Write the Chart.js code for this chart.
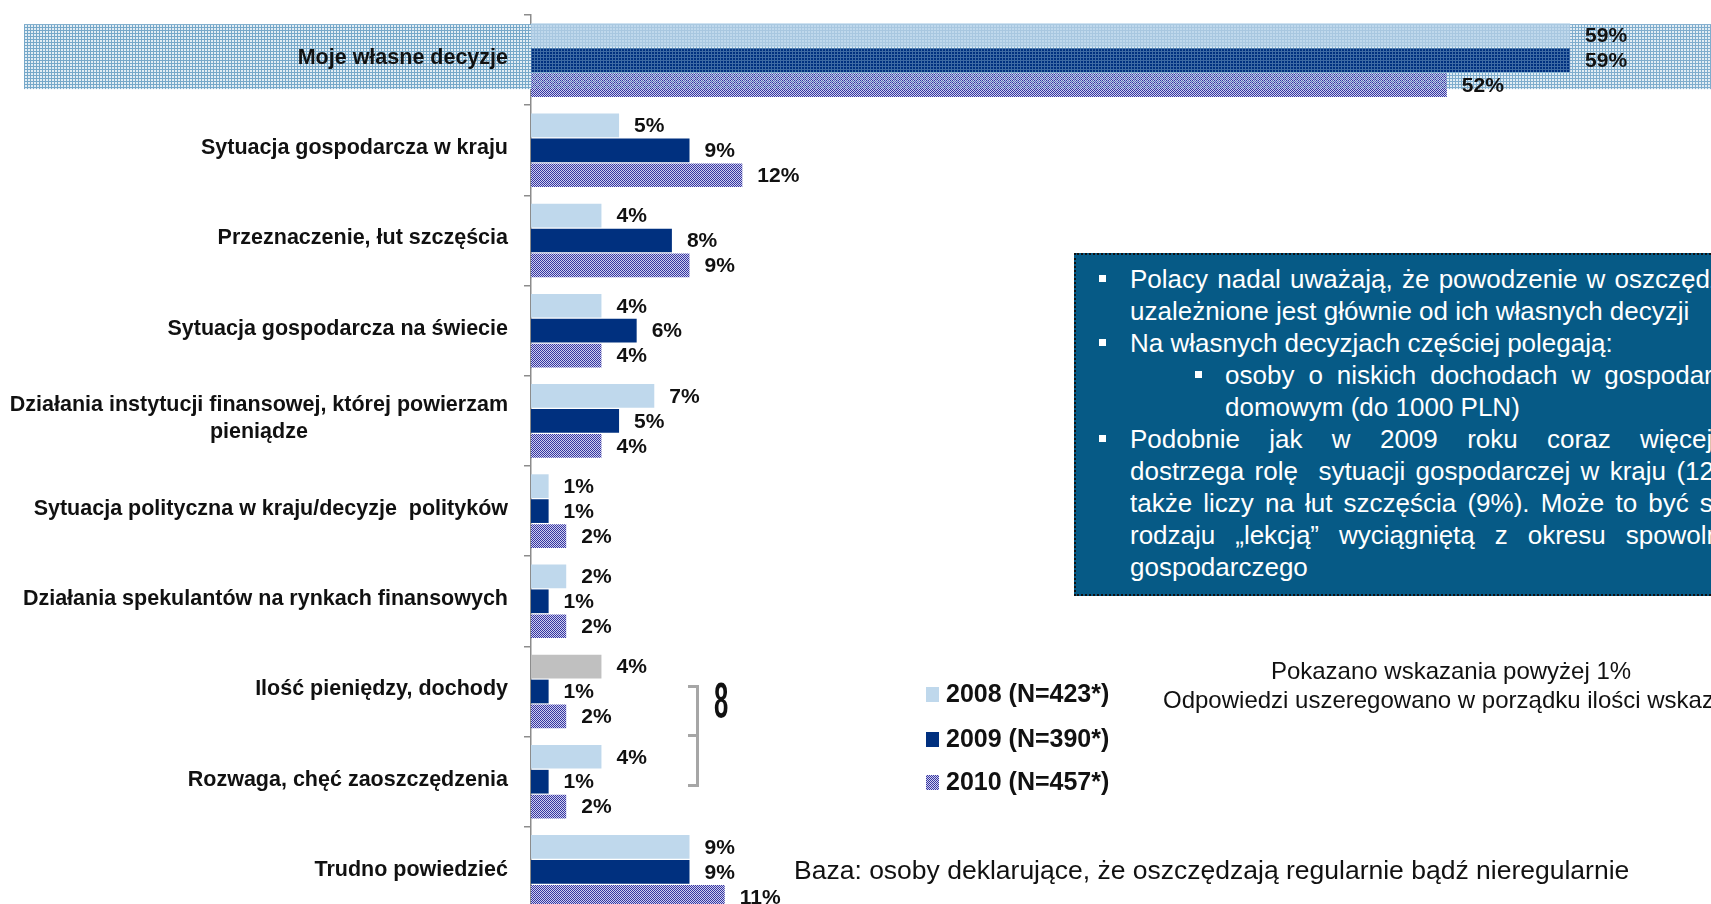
<!DOCTYPE html>
<html><head><meta charset="utf-8">
<script src="https://cdn.jsdelivr.net/npm/chart.js@4.4.0/dist/chart.umd.min.js"></script>
<style>
html,body{margin:0;padding:0;background:#fff;overflow:hidden;}
#wrap{position:relative;width:1711px;height:930px;overflow:hidden;}
#c{position:absolute;left:0;top:0;}
.box{position:absolute;left:1074px;top:253px;width:800px;height:343px;background:#065a86;border:2px dotted #111;box-sizing:border-box;color:#fff;font-family:'Liberation Sans',Arial,sans-serif;font-size:26px;}
.ln{position:absolute;white-space:nowrap;line-height:32px;height:32px;}
.j{text-align:justify;text-align-last:justify;white-space:normal;overflow:hidden;}
.b{position:absolute;width:7px;height:7px;background:#fff;}
.note{position:absolute;font-family:'Liberation Sans',Arial,sans-serif;color:#111;white-space:nowrap;}
.br{position:absolute;left:688px;top:685px;width:8px;height:96px;border:3px solid #a6a6a6;border-left:none;}
.brm{position:absolute;left:688px;top:734px;width:10px;height:3px;background:#a6a6a6;}
.eight{position:absolute;left:714px;top:674px;font-family:'Liberation Sans',Arial,sans-serif;font-weight:bold;font-size:27px;color:#111;transform:scale(0.95,1.85);transform-origin:0 0;}
</style>
</head><body>
<div id="wrap">
<canvas id="c" width="1711" height="930"></canvas>

<div class="box">
  <div class="b" style="left:23px;top:20px"></div>
  <div class="ln" style="left:54px;top:8px;word-spacing:2px">Polacy nadal uważają, że powodzenie w oszczędzaniu</div>
  <div class="ln" style="left:54px;top:40px">uzależnione jest głównie od ich własnych decyzji</div>
  <div class="b" style="left:23px;top:84px"></div>
  <div class="ln" style="left:54px;top:72px">Na własnych decyzjach częściej polegają:</div>
  <div class="b" style="left:119px;top:116px"></div>
  <div class="ln j" style="left:149px;top:104px;width:547px">osoby o niskich dochodach w gospodarstwie</div>
  <div class="ln" style="left:149px;top:136px">domowym (do 1000 PLN)</div>
  <div class="b" style="left:23px;top:180px"></div>
  <div class="ln j" style="left:54px;top:168px;width:668px">Podobnie jak w 2009 roku coraz więcej osób</div>
  <div class="ln j" style="left:54px;top:200px;width:668px">dostrzega rolę&nbsp; sytuacji gospodarczej w kraju (12%), ale</div>
  <div class="ln j" style="left:54px;top:232px;width:645px">także liczy na łut szczęścia (9%). Może to być swego</div>
  <div class="ln j" style="left:54px;top:264px;width:646px">rodzaju „lekcją” wyciągniętą z okresu spowolnienia</div>
  <div class="ln" style="left:54px;top:296px">gospodarczego</div>
</div>

<div class="note" style="left:1163px;top:656px;width:576px;text-align:center;font-size:24px;line-height:29px">Pokazano wskazania powyżej 1%<br>Odpowiedzi uszeregowano w porządku ilości wskazań</div>
<div class="note" style="left:794px;top:855px;font-size:26.5px;line-height:30px">Baza: osoby deklarujące, że oszczędzają regularnie bądź nieregularnie</div>

<div class="br"></div><div class="brm"></div>
<div class="eight">8</div>
</div>

<script>
// ---- data ----
const categories = [
  'Moje własne decyzje',
  'Sytuacja gospodarcza w kraju',
  'Przeznaczenie, łut szczęścia',
  'Sytuacja gospodarcza na świecie',
  ['Działania instytucji finansowej, której powierzam', 'pieniądze'],
  'Sytuacja polityczna w kraju/decyzje  polityków',
  'Działania spekulantów na rynkach finansowych',
  'Ilość pieniędzy, dochody',
  'Rozwaga, chęć zaoszczędzenia',
  'Trudno powiedzieć'
];
const seriesNames = ['2008 (N=423*)', '2009 (N=390*)', '2010 (N=457*)'];
const values2008 = [59, 5, 4, 4, 7, 1, 2, 4, 4, 9];
const values2009 = [59, 9, 8, 6, 5, 1, 1, 1, 1, 9];
const values2010 = [52, 12, 9, 4, 4, 2, 2, 2, 2, 11];
const greyCategory = 'Ilość pieniędzy, dochody';
const highlightedCategory = 'Moje własne decyzje';
const axisMax = 67;

// ---- styles ----
const C2008 = '#bfd8ec', C2009 = '#00307f', CGREY = '#c0c0c0';
function makePattern(w, h, fn) {
  const c = document.createElement('canvas'); c.width = w; c.height = h;
  const g = c.getContext('2d'); fn(g);
  return g.createPattern(c, 'repeat');
}
const P2010 = makePattern(2, 2, g => {
  g.fillStyle = '#cfcff0'; g.fillRect(0, 0, 2, 2);
  g.fillStyle = '#3636a0'; g.fillRect(0, 0, 1, 1); g.fillRect(1, 1, 1, 1);
});
const MESH = makePattern(3, 3, g => {
  g.fillStyle = '#e2edf4'; g.fillRect(0, 0, 3, 3);
  g.fillStyle = '#76a8c9'; g.fillRect(0, 0, 3, 1); g.fillRect(0, 0, 1, 3);
});
const MESH_OVER = makePattern(3, 3, g => {
  g.fillStyle = 'rgba(140,180,210,0.45)'; g.fillRect(0, 0, 3, 1); g.fillRect(0, 1, 1, 2);
});
const FONT = '"Liberation Sans", Arial, sans-serif';
const labelOf = c => Array.isArray(c) ? c.join(' ') : c;

const deco = {
  id: 'deco',
  beforeDatasetsDraw(chart) {
    const ctx = chart.ctx, ys = chart.scales.y;
    const i = categories.findIndex(c => labelOf(c) === highlightedCategory);
    const cy = ys.getPixelForValue(i);
    ctx.save();
    ctx.fillStyle = MESH;
    ctx.fillRect(24, cy - 36, chart.width - 24, 65);
    ctx.restore();
  },
  afterDatasetsDraw(chart) {
    const ctx = chart.ctx, ys = chart.scales.y;
    const i = categories.findIndex(c => labelOf(c) === highlightedCategory);
    const cy = ys.getPixelForValue(i);
    ctx.save();
    ctx.fillStyle = MESH_OVER;
    ctx.fillRect(chart.chartArea.left, cy - 36, chart.width, 65);
    // value labels
    ctx.font = 'bold 21px ' + FONT;
    ctx.fillStyle = '#111';
    ctx.textAlign = 'left';
    ctx.textBaseline = 'middle';
    chart.data.datasets.forEach((ds, d) => {
      chart.getDatasetMeta(d).data.forEach((el, k) => {
        ctx.fillText(ds.data[k] + '%', el.x + 15, el.y + 1);
      });
    });
    ctx.restore();
  },
  afterDraw(chart) {
    const ctx = chart.ctx, ys = chart.scales.y;
    ctx.save();
    // category labels
    ctx.font = 'bold 21.5px ' + FONT;
    ctx.fillStyle = '#111';
    ctx.textBaseline = 'middle';
    const xr = ys.right - 23;
    chart.data.labels.forEach((lab, i) => {
      const y = ys.getPixelForValue(i);
      const lines = Array.isArray(lab) ? lab : [lab];
      if (lines.length === 1) {
        ctx.textAlign = 'right';
        ctx.fillText(lines[0], xr, y - 2);
      } else {
        const w = Math.max(...lines.map(l => ctx.measureText(l).width));
        ctx.textAlign = 'center';
        lines.forEach((l, k) => ctx.fillText(l, xr - w / 2, y - 2 + (k - (lines.length - 1) / 2) * 27));
      }
    });
    // legend
    const swatches = [C2008, C2009, P2010];
    const rowsY = [695, 740, 783];
    ctx.font = 'bold 25px ' + FONT;
    ctx.textAlign = 'left';
    chart.data.datasets.forEach((ds, d) => {
      const y = rowsY[d];
      ctx.fillStyle = swatches[d];
      ctx.fillRect(926, y - 8, 13, 15);
      ctx.fillStyle = '#111';
      ctx.fillText(ds.label, 946, y);
    });
    ctx.restore();
  }
};

new Chart(document.getElementById('c'), {
  type: 'bar',
  data: {
    labels: categories,
    datasets: [
      { label: seriesNames[0], data: values2008,
        backgroundColor: c => labelOf(categories[c.dataIndex]) === greyCategory ? CGREY : C2008 },
      { label: seriesNames[1], data: values2009, backgroundColor: C2009 },
      { label: seriesNames[2], data: values2010, backgroundColor: P2010 }
    ]
  },
  options: {
    indexAxis: 'y',
    responsive: false,
    devicePixelRatio: 1,
    animation: false,
    barPercentage: 0.95,
    categoryPercentage: 0.83,
    layout: { padding: { top: 15, bottom: 13, left: 0, right: 0 } },
    plugins: { legend: { display: false }, tooltip: { enabled: false } },
    scales: {
      x: { min: 0, max: axisMax, display: false },
      y: {
        offset: true,
        grid: { offset: true, drawOnChartArea: false, drawTicks: true, tickLength: 7, color: '#8c8c8c', lineWidth: 1.5 },
        border: { display: true, color: '#8c8c8c', width: 1.5 },
        ticks: { display: false },
        afterFit(s) { s.width = 531; }
      }
    }
  },
  plugins: [deco]
});
</script>
</body></html>
